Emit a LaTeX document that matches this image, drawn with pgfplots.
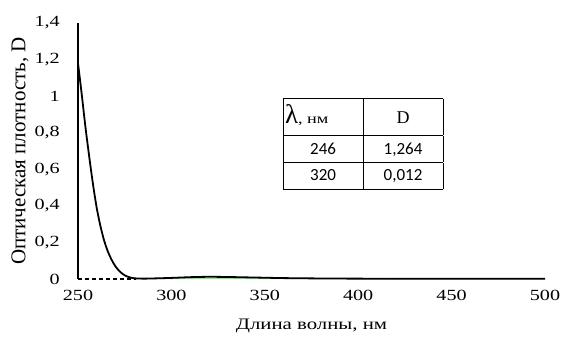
\documentclass[border=0pt]{standalone}
\usepackage{pgfplots}
\pgfplotsset{compat=1.18}
\usepackage{fontspec}
\setmainfont{Liberation Serif}
\newfontfamily\wideserif{Liberation Serif}[FakeStretch=1.3]
\newfontfamily\calfont{Carlito}
\begin{document}
\fontsize{18}{20}\selectfont
\begin{tikzpicture}
\begin{axis}[
  scale only axis, width=467pt, height=256pt,
  xmin=250, xmax=500, ymin=0, ymax=1.4,
  axis lines*=left,
  x axis line style={draw=none},
  y axis line style={-, line width=1.1pt},
  xtick={250,300,...,500},
  ytick={0,0.2,...,1.4},
  major tick length=0pt,
  /pgf/number format/assume math mode=true,
  /pgf/number format/use comma,
  /pgf/number format/fixed,
  ticklabel style={font=\wideserif\fontsize{15.5}{16}\selectfont},
  yticklabel style={xshift=-12pt},
  xticklabel style={yshift=-5pt},
  xlabel={Длина волны, нм},
  ylabel={Оптическая плотность, D},
  xlabel style={font=\wideserif\fontsize{16}{18}\selectfont, at={(axis description cs:0.5,0)}, anchor=center, yshift=-47pt},
  ylabel style={font=\fontsize{21}{22}\selectfont, at={(axis description cs:-0.1242,0.5)}, anchor=center},
  clip=false,
]
\coordinate (O) at (rel axis cs:0,0);
\addplot[line width=1.2pt, black, dash pattern=on 4pt off 3pt] coordinates {(250,0) (281,0)};
\addplot[green!55!black!35, line width=1pt] coordinates {(281,0.002) (500,0.001)};
\addplot[black, line width=1.8pt, smooth] coordinates {
(250,1.18) (252,1.01) (254,0.83) (256,0.67) (258,0.52) (260,0.39)
(262,0.29) (264,0.21) (266,0.15) (268,0.105) (270,0.07) (272,0.045)
(274,0.027) (276,0.015) (278,0.008) (280,0.004) (285,0.002) (290,0.003)
(300,0.006) (310,0.010) (320,0.012) (330,0.011) (340,0.009) (350,0.007)
(360,0.005) (380,0.003) (400,0.002) (450,0.001) (500,0.001)};
\node[anchor=center, inner sep=0pt] at (axis cs:402.6,0.738) {%
\setlength\tabcolsep{0pt}\setlength\arrayrulewidth{0.8pt}%
\begin{tabular}{|c|c|}\hline
\makebox[80pt][l]{\rule[-12pt]{0pt}{36pt}\hspace{2pt}{\fontsize{27}{28}\selectfont λ}{\wideserif\fontsize{14}{15}\selectfont, нм}} &
\makebox[80pt]{\rule[-12pt]{0pt}{36pt}{\fontsize{18}{18}\selectfont D}} \\\hline
\makebox[80pt]{\rule[-8pt]{0pt}{26pt}{\calfont\fontsize{17}{17}\selectfont 246}} &
\makebox[80pt]{\rule[-8pt]{0pt}{26pt}{\calfont\fontsize{17}{17}\selectfont 1,264}} \\\hline
\makebox[80pt]{\rule[-8pt]{0pt}{26pt}{\calfont\fontsize{17}{17}\selectfont 320}} &
\makebox[80pt]{\rule[-8pt]{0pt}{26pt}{\calfont\fontsize{17}{17}\selectfont 0,012}} \\\hline
\end{tabular}};
\end{axis}
\pgfresetboundingbox
\path (O) ++(-78pt,-61pt) rectangle ++(561pt,340pt);
\end{tikzpicture}
\end{document}
